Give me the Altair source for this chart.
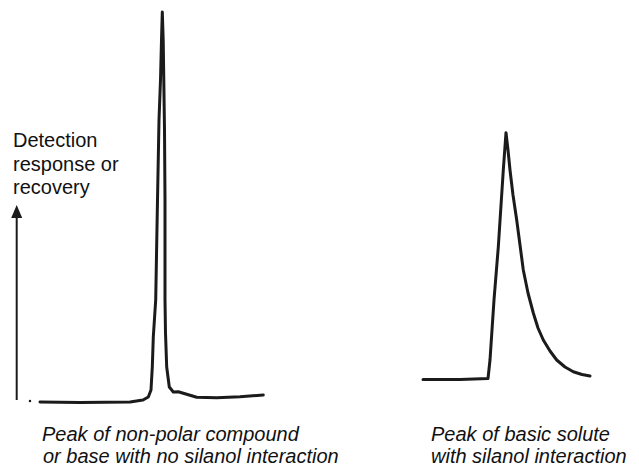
import altair as alt
import pandas as pd

# ---- Peak 1: non-polar compound (sharp, symmetric) - traced outline ----
peak1_time = [40, 80, 130, 143, 148.3, 151, 152.3, 153.3, 155.7, 157.5, 159, 160.5,
              161.5, 162.3, 163.2, 163.8, 164.5, 165, 165, 165.5, 166.7, 169.3,
              173.3, 178.3, 183.3, 196.7, 216.7, 240, 263.3]
peak1_resp = [65, 64.5, 65, 67, 70, 77, 100, 130, 167, 267, 347, 387,
              427, 455, 427, 387, 337, 267, 167, 134, 100, 80,
              75, 75.3, 73.7, 69.7, 69.3, 70.3, 72]

# ---- Peak 2: basic solute with silanol interaction (tailing) ----
peak2_time = [423, 460, 488, 490, 494, 498.3, 503.3, 506, 508, 510, 513, 516.7,
              520, 523.3, 528, 533.3, 538, 543.3, 550, 556.7, 565, 573.3, 582, 590]
peak2_resp = [87.5, 87.5, 88.5, 107, 167, 220, 297, 334.3, 317, 297, 272, 247,
              222, 197, 174, 154, 139, 127, 116, 107, 100, 95.3, 92.5, 91]

# ---- Response axis arrow ----
arrow_time = [16.7, 16.7]
arrow_resp = [67, 249]
arrow_head_resp = [255.5]
dot_time = [30]
dot_resp = [66]

# ---- Labels ----
axis_label = ["Detection", "response or", "recovery"]
peak1_label = ["Peak of non-polar compound", "or base with no silanol interaction"]
peak2_label = ["Peak of basic solute", "with silanol interaction"]

INK = "#1b1b1b"
FONT = "Liberation Sans"

curves = pd.DataFrame(
    [{"t": t, "r": r, "i": i, "peak": "p1"} for i, (t, r) in enumerate(zip(peak1_time, peak1_resp))]
    + [{"t": t, "r": r, "i": i, "peak": "p2"} for i, (t, r) in enumerate(zip(peak2_time, peak2_resp))]
)
arrow_df = pd.DataFrame({"t": arrow_time, "r": arrow_resp})
head_df = pd.DataFrame({"t": arrow_time[:1], "r": arrow_head_resp})
dot_df = pd.DataFrame({"t": dot_time, "r": dot_resp})

xs = alt.Scale(domain=[8, 631], nice=False, zero=False)
ys = alt.Scale(domain=[0, 459], nice=False, zero=False)
X = alt.X("t:Q", scale=xs, axis=None)
Y = alt.Y("r:Q", scale=ys, axis=None)

lines = alt.Chart(curves).mark_line(color=INK, strokeWidth=3, strokeJoin="round", strokeCap="round").encode(
    x=X, y=Y, detail="peak:N", order="i:Q"
)
shaft = alt.Chart(arrow_df).mark_line(color=INK, strokeWidth=2).encode(x=X, y=Y)
head = alt.Chart(head_df).mark_point(
    shape="M0,-1L0.85,1L-0.85,1Z", size=169, filled=True, color=INK, opacity=1
).encode(x=X, y=Y)
dot = alt.Chart(dot_df).mark_point(shape="circle", size=6, filled=True, color=INK, opacity=1).encode(x=X, y=Y)

axis_text = pd.DataFrame({"t": [13] * 3, "r": [320, 296.5, 273], "txt": axis_label})
bl_text = pd.DataFrame({"t": [42, 43], "r": [26.5, 4], "txt": peak1_label})
br_text = pd.DataFrame({"t": [431] * 2, "r": [26.5, 4], "txt": peak2_label})

def txt(df, style):
    return alt.Chart(df).mark_text(
        align="left", baseline="alphabetic", font=FONT, fontSize=20,
        fontStyle=style, color="#111111"
    ).encode(x=X, y=Y, text="txt:N")

chart = alt.layer(
    lines, shaft, head, dot,
    txt(axis_text, "normal"), txt(bl_text, "italic"), txt(br_text, "italic")
).properties(
    width=623, height=459, padding=0, autosize=alt.AutoSizeParams(type="none")
).configure_view(stroke=None)

chart.save("out.html", embed_options={"renderer": "svg", "actions": False})
